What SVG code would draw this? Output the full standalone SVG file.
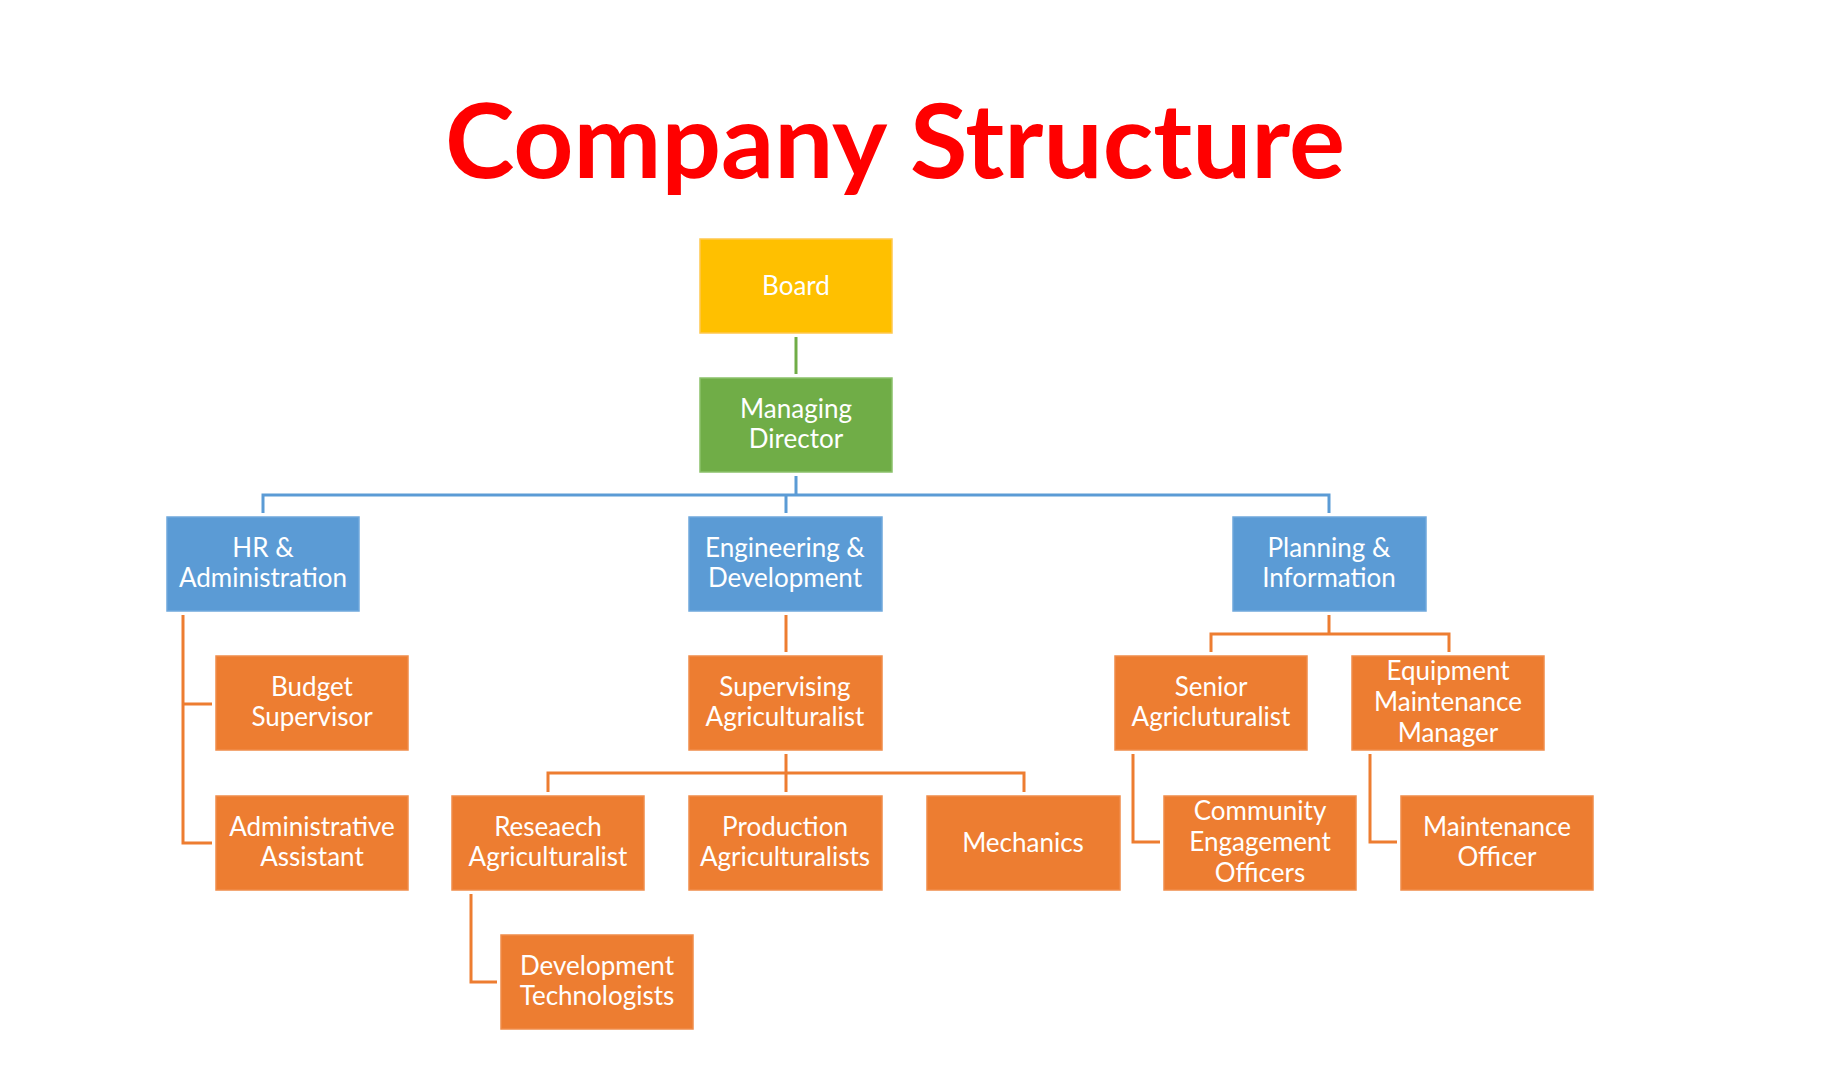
<svg xmlns="http://www.w3.org/2000/svg" width="1827" height="1074" viewBox="0 0 1827 1074">
<style>
.box{stroke-width:1.5}
.gold{fill:#FFC000;stroke:#FFC84D}
.green{fill:#70AD47;stroke:#8BC16A}
.blue{fill:#5B9BD5;stroke:#6FA8DC}
.orange{fill:#ED7D31;stroke:#F08C4A}
.t{font-family:Lato,"Open Sans","Liberation Sans",sans-serif;font-size:26px;fill:#FFFFFF;text-anchor:middle}
.title{font-family:Lato,"Open Sans","Liberation Sans",sans-serif;font-size:104px;font-weight:bold;fill:#FF0000;text-anchor:middle}
.c{fill:none;stroke-width:3;stroke-linejoin:miter}
.cg{stroke:#70AD47}
.cb{stroke:#5B9BD5}
.co{stroke:#ED7D31}
</style>
<rect width="1827" height="1074" fill="#FFFFFF"/>
<text class="title" x="895" y="178" textLength="900" lengthAdjust="spacingAndGlyphs">Company Structure</text>

<g id="connectors">
<path class="c cg" d="M796 337V374"/>
<path class="c cb" d="M796 476V495M263 513V495H1329V513M786 495V513"/>
<path class="c co" d="M786 615V652"/>
<path class="c co" d="M786 754V792M548 792V773H1024V792"/>
<path class="c co" d="M471 894V982H497"/>
<path class="c co" d="M183 615V843H212M183 704H212"/>
<path class="c co" d="M1329 615V634M1211 652V634H1449V652"/>
<path class="c co" d="M1133 754V842H1160"/>
<path class="c co" d="M1370 754V842H1397"/>
</g>

<g id="board"><rect class="box gold" x="700" y="239" width="192" height="94"/><text class="t" x="796" y="295">Board</text></g>
<g id="managing-director"><rect class="box green" x="700" y="378" width="192" height="94"/><text class="t" x="796" y="418">Managing</text><text class="t" x="796" y="448">Director</text></g>

<g id="hr"><rect class="box blue" x="167" y="517" width="192" height="94"/><text class="t" x="263" y="557">HR &amp;</text><text class="t" x="263" y="587">Administration</text></g>
<g id="engineering"><rect class="box blue" x="689" y="517" width="193" height="94"/><text class="t" x="785" y="557">Engineering &amp;</text><text class="t" x="785" y="587">Development</text></g>
<g id="planning"><rect class="box blue" x="1233" y="517" width="193" height="94"/><text class="t" x="1329" y="557">Planning &amp;</text><text class="t" x="1329" y="587">Information</text></g>

<g id="budget"><rect class="box orange" x="216" y="656" width="192" height="94"/><text class="t" x="312" y="696">Budget</text><text class="t" x="312" y="726">Supervisor</text></g>
<g id="supervising"><rect class="box orange" x="689" y="656" width="193" height="94"/><text class="t" x="785" y="696">Supervising</text><text class="t" x="785" y="726">Agriculturalist</text></g>
<g id="senior"><rect class="box orange" x="1115" y="656" width="192" height="94"/><text class="t" x="1211" y="696">Senior</text><text class="t" x="1211" y="726">Agricluturalist</text></g>
<g id="equipment"><rect class="box orange" x="1352" y="656" width="192" height="94"/><text class="t" x="1448" y="680">Equipment</text><text class="t" x="1448" y="711">Maintenance</text><text class="t" x="1448" y="742">Manager</text></g>

<g id="admin-assistant"><rect class="box orange" x="216" y="796" width="192" height="94"/><text class="t" x="312" y="836">Administrative</text><text class="t" x="312" y="866">Assistant</text></g>
<g id="research"><rect class="box orange" x="452" y="796" width="192" height="94"/><text class="t" x="548" y="836">Reseaech</text><text class="t" x="548" y="866">Agriculturalist</text></g>
<g id="production"><rect class="box orange" x="689" y="796" width="193" height="94"/><text class="t" x="785" y="836">Production</text><text class="t" x="785" y="866">Agriculturalists</text></g>
<g id="mechanics"><rect class="box orange" x="927" y="796" width="193" height="94"/><text class="t" x="1023" y="852">Mechanics</text></g>
<g id="community"><rect class="box orange" x="1164" y="796" width="192" height="94"/><text class="t" x="1260" y="820">Community</text><text class="t" x="1260" y="851">Engagement</text><text class="t" x="1260" y="882">Officers</text></g>
<g id="maintenance-officer"><rect class="box orange" x="1401" y="796" width="192" height="94"/><text class="t" x="1497" y="836">Maintenance</text><text class="t" x="1497" y="866">Officer</text></g>

<g id="dev-tech"><rect class="box orange" x="501" y="935" width="192" height="94"/><text class="t" x="597" y="975">Development</text><text class="t" x="597" y="1005">Technologists</text></g>
</svg>
